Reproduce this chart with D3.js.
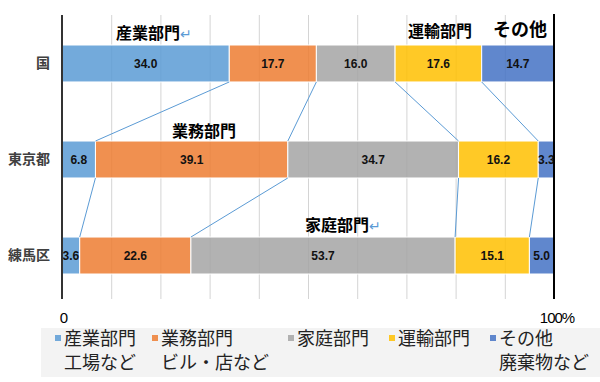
<!DOCTYPE html>
<html>
<head>
<meta charset="utf-8">
<script src="https://cdn.jsdelivr.net/npm/d3@7"></script>
<style>
  body { margin: 0; background: #fff; }
  svg { display: block; }
</style>
</head>
<body>
<div id="chart"></div>
<script>
// data
const categories = ["国", "東京都", "練馬区"];
const sectors = ["産業部門", "業務部門", "家庭部門", "運輸部門", "その他"];
const sectorSub = ["工場など", "ビル・店など", "", "", "廃棄物など"];
const kuniValues = [34.0, 17.7, 16.0, 17.6, 14.7];
const tokyoValues = [6.8, 39.1, 34.7, 16.2, 3.3];
const nerimaValues = [3.6, 22.6, 53.7, 15.1, 5.0];
const xTicks = [0, 10, 20, 30, 40, 50, 60, 70, 80, 90, 100];
const colours = ["#5b9bd5", "#ed7d31", "#a5a5a5", "#ffc000", "#4472c4"];

const width = 600, height = 382;

const rows = categories.map((c, i) => {
  const vals = [kuniValues, tokyoValues, nerimaValues][i];
  const r = { cat: c };
  sectors.forEach((s, j) => r[s] = vals[j]);
  return r;
});

const svg = d3.select("#chart").append("svg")
  .attr("width", width).attr("height", height)
  .style("font-family", "'Noto Sans CJK JP', 'Noto Sans', sans-serif");

const x = d3.scaleLinear().domain([0, 100]).range([62, 554]);
const y = d3.scaleBand().domain(categories).range([45, 274]).paddingInner(0.615).paddingOuter(0);

const plotTop = 15, plotBottom = 299;

// gridlines
svg.append("g").selectAll("line")
  .data(xTicks.filter(t => t > 0 && t < 100))
  .join("line")
  .attr("x1", d => x(d) + 0.5).attr("x2", d => x(d) + 0.5)
  .attr("y1", plotTop).attr("y2", plotBottom)
  .attr("stroke", "#d4d4d4").attr("stroke-width", 1);

const stacked = d3.stack().keys(sectors)(rows);

// bars
const layer = svg.append("g").selectAll("g")
  .data(stacked).join("g")
  .attr("fill", (d, i) => colours[i])
  .attr("fill-opacity", 0.85);

layer.selectAll("rect")
  .data(d => d.map(p => ({ p, key: d.key })))
  .join("rect")
  .attr("x", d => x(d.p[0]))
  .attr("y", d => y(d.p.data.cat))
  .attr("width", d => x(d.p[1]) - x(d.p[0]))
  .attr("height", y.bandwidth())
  .attr("stroke", "#fff").attr("stroke-width", 1);

// connector lines between bars
const links = [];
for (let i = 0; i < categories.length - 1; i++) {
  for (let k = 0; k < sectors.length - 1; k++) {
    links.push({
      x1: x(stacked[k][i][1]), y1: y(categories[i]) + y.bandwidth(),
      x2: x(stacked[k][i + 1][1]), y2: y(categories[i + 1])
    });
  }
}
svg.append("g").selectAll("line")
  .data(links).join("line")
  .attr("x1", d => d.x1).attr("y1", d => d.y1)
  .attr("x2", d => d.x2).attr("y2", d => d.y2)
  .attr("stroke", "#5b9bd5").attr("stroke-width", 1);

// value labels
svg.append("g").selectAll("g")
  .data(stacked).join("g")
  .selectAll("text")
  .data(d => d)
  .join("text")
  .attr("x", d => (x(d[0]) + x(d[1])) / 2)
  .attr("y", d => y(d.data.cat) + y.bandwidth() / 2)
  .attr("dy", "0.35em")
  .attr("text-anchor", "middle")
  .attr("font-family", "'Liberation Sans', Arial, sans-serif")
  .attr("font-weight", "bold")
  .attr("font-size", 12)
  .attr("fill", "#111")
  .text(d => (d[1] - d[0]).toFixed(1));

// axes lines
svg.append("line").attr("x1", x(0)).attr("x2", x(0)).attr("y1", plotTop).attr("y2", plotBottom)
  .attr("stroke", "#333").attr("stroke-width", 2);
svg.append("line").attr("x1", x(100)).attr("x2", x(100)).attr("y1", plotTop - 1).attr("y2", plotBottom)
  .attr("stroke", "#000").attr("stroke-width", 2);

// category labels
svg.append("g").selectAll("text")
  .data(categories).join("text")
  .attr("x", 50)
  .attr("y", d => y(d) + y.bandwidth() / 2)
  .attr("dy", "0.35em")
  .attr("text-anchor", "end")
  .attr("font-weight", "bold")
  .attr("font-size", 14)
  .attr("fill", "#404040")
  .text(d => d);

// x tick labels
svg.append("text").attr("x", x(0) + 2).attr("y", 318).attr("dy", "0.35em")
  .attr("text-anchor", "middle").attr("font-family", "'Liberation Sans', Arial, sans-serif")
  .attr("font-size", 15).attr("fill", "#000").text("0");
svg.append("text").attr("x", x(100) + 3).attr("y", 318).attr("dy", "0.35em")
  .attr("text-anchor", "middle").attr("font-family", "'Liberation Sans', Arial, sans-serif")
  .attr("font-size", 15).attr("letter-spacing", "-1px").attr("fill", "#000").text("100%");

// sector annotations
const notes = [
  { t: "産業部門", x: 148, y: 33, size: 16, ret: true },
  { t: "運輸部門", x: 440, y: 31, size: 16 },
  { t: "その他", x: 520, y: 30, size: 18 },
  { t: "業務部門", x: 204, y: 131, size: 16 },
  { t: "家庭部門", x: 337, y: 225, size: 16, ret: true }
];
const nt = svg.append("g").selectAll("text").data(notes).join("text")
  .attr("x", d => d.x).attr("y", d => d.y).attr("dy", "0.35em")
  .attr("font-weight", "bold")
  .attr("font-size", d => d.size)
  .attr("fill", "#000")
  .each(function (d) {
    const el = d3.select(this);
    el.append("tspan").text(d.t);
    if (d.ret) {
      el.append("tspan")
        .attr("font-size", 14).attr("font-weight", "normal").attr("fill", "#5b9bd5")
        .text("↵");
    }
    // centre on the label text only
    const w = this.getBBox().width;
    const tw = this.firstChild.getComputedTextLength();
    el.attr("x", d.x - tw / 2);
  });

// legend
svg.append("rect").attr("x", 41).attr("y", 328).attr("width", 559).attr("height", 49)
  .attr("fill", "#f3f3f3");
const legX = [55, 152, 288, 389, 490];
const leg = svg.append("g").selectAll("g").data(sectors).join("g")
  .attr("transform", (d, i) => `translate(${legX[i]},0)`);
leg.append("rect").attr("x", 0).attr("y", 335).attr("width", 6).attr("height", 6)
  .attr("fill", (d, i) => colours[i]).attr("fill-opacity", 0.85);
leg.append("text").attr("x", 9).attr("y", 338).attr("dy", "0.38em")
  .attr("font-size", 18).attr("fill", "#222").text(d => d);
leg.append("text").attr("x", 9).attr("y", 362).attr("dy", "0.38em")
  .attr("font-size", 18).attr("fill", "#222").text((d, i) => sectorSub[i]);
</script>
</body>
</html>
